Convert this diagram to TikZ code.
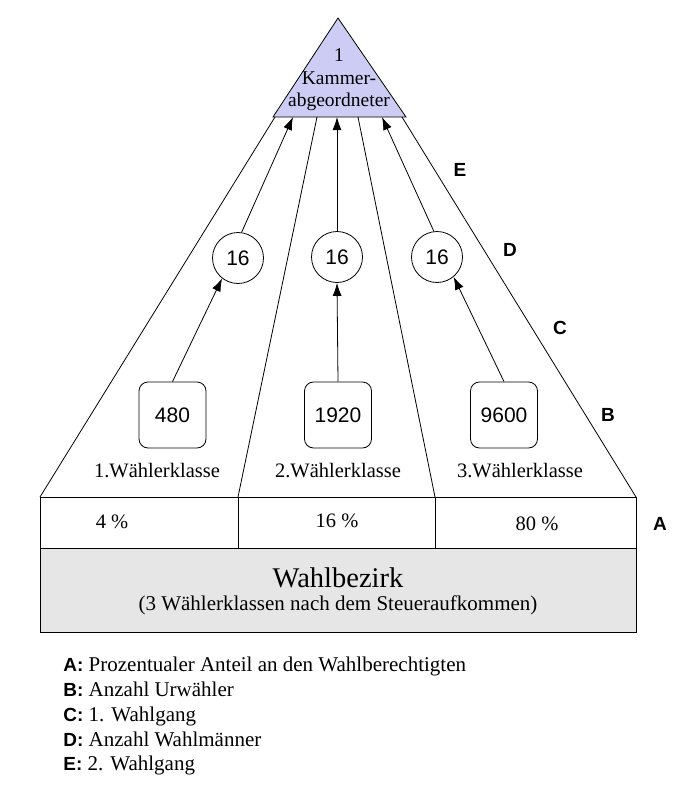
\documentclass[tikz,border=0pt]{standalone}
\usepackage{fontspec}
\setmainfont{Liberation Serif}
\setsansfont{Liberation Sans}
\usetikzlibrary{arrows.meta}
\definecolor{lav}{RGB}{204,204,245}
\definecolor{grayfill}{RGB}{230,230,230}
\newcommand\legkeyfont{\sffamily\bfseries\fontsize{19}{21}\selectfont}
\begin{document}
\begin{tikzpicture}[x=1pt,y=-1pt,line width=0.8pt,
  serif/.style={font=\fontsize{20.5}{22}\selectfont},
  numbox/.style={draw,rounded corners=9pt,minimum width=67pt,minimum height=66pt,inner sep=0pt,font=\sffamily\fontsize{21}{22}\selectfont},
  numcirc/.style={draw,circle,minimum size=51pt,inner sep=0pt,font=\sffamily\fontsize{21}{22}\selectfont},
  letter/.style={font=\sffamily\bfseries\fontsize{19}{21}\selectfont},
  arr/.style={-{Latex[length=13pt,width=9pt]}},
  legend/.style={anchor=base west,inner sep=0pt,font=\fontsize{21}{25}\selectfont}]
\useasboundingbox (0,0) rectangle (697,800);
\fill[white] (0,0) rectangle (697,800);
% triangle
\coordinate (apex) at (338,18);
\coordinate (tl) at (273,117);
\coordinate (tr) at (406,117);
\draw[fill=lav] (apex) -- (tl) -- (tr) -- cycle;
\node[align=center,inner sep=0pt,font=\fontsize{19.5}{22.5}\selectfont] (ttext) at (339,80) {1\\Kammer-\\abgeordneter};
% base points
\coordinate (b1) at (275,117);
\coordinate (b2) at (317,117);
\coordinate (b3) at (358,117);
\coordinate (b4) at (402,117);
\coordinate (a1) at (293,117);
\coordinate (a2) at (337,117);
\coordinate (a3) at (382,117);
% table
\coordinate (p1) at (40,497);
\coordinate (p2) at (238,497);
\coordinate (p3) at (435,497);
\coordinate (p4) at (636,497);
\draw (40,497) rectangle (636,548);
\draw (p2) -- (238,548);
\draw (p3) -- (435,548);
\draw[fill=grayfill] (40,548) rectangle (636,632);
\node[serif] (pc1) at (112,522) {4 \%};
\node[serif] (pc2) at (337,521) {16 \%};
\node[serif] (pc3) at (537,524) {80 \%};
\node[font=\fontsize{28.5}{30}\selectfont] (wb) at (338,578) {Wahlbezirk};
\node[font=\fontsize{21}{23}\selectfont] (wbs) at (338,605) {(3 Wählerklassen nach dem Steueraufkommen)};
% fan lines
\draw (p1) -- (b1);
\draw (p2) -- (b2);
\draw (p3) -- (b3);
\draw (p4) -- (b4);
% class labels
\node[serif] (k1) at (157,471) {1.Wählerklasse};
\node[serif] (k2) at (338,471) {2.Wählerklasse};
\node[serif] (k3) at (520,471) {3.Wählerklasse};
% boxes
\node[numbox] (n1) at (172.5,415) {480};
\node[numbox] (n2) at (338,415) {1920};
\node[numbox] (n3) at (504,415) {9600};
% circles
\node[numcirc] (c1) at (238,258) {16};
\node[numcirc] (c2) at (337,257) {16};
\node[numcirc] (c3) at (437,257) {16};
% arrows
\draw[arr] (n1.north) -- (c1.232);
\draw[arr] (n2.north) -- (c2.south);
\draw[arr] (n3.north) -- (c3.310);
\draw[arr] (c1.82) -- (a1);
\draw[arr] (c2.north) -- (a2);
\draw[arr] (c3.97) -- (a3);
% letters
\node[letter] (le) at (460,170) {E};
\node[letter] (ld) at (510,250) {D};
\node[letter] (lc) at (560,328) {C};
\node[letter] (lb) at (608,415) {B};
\node[letter] (la) at (660,524) {A};
% legend
\node[legend] (g1) at (63,671) {{\legkeyfont A:} Prozentualer Anteil an den Wahlberechtigten};
\node[legend] (g2) at (63,696) {{\legkeyfont B:} Anzahl Urwähler};
\node[legend] (g3) at (63,721) {{\legkeyfont C:} 1. Wahlgang};
\node[legend] (g4) at (63,746) {{\legkeyfont D:} Anzahl Wahlmänner};
\node[legend] (g5) at (63,770) {{\legkeyfont E:} 2. Wahlgang};
\end{tikzpicture}
\end{document}
